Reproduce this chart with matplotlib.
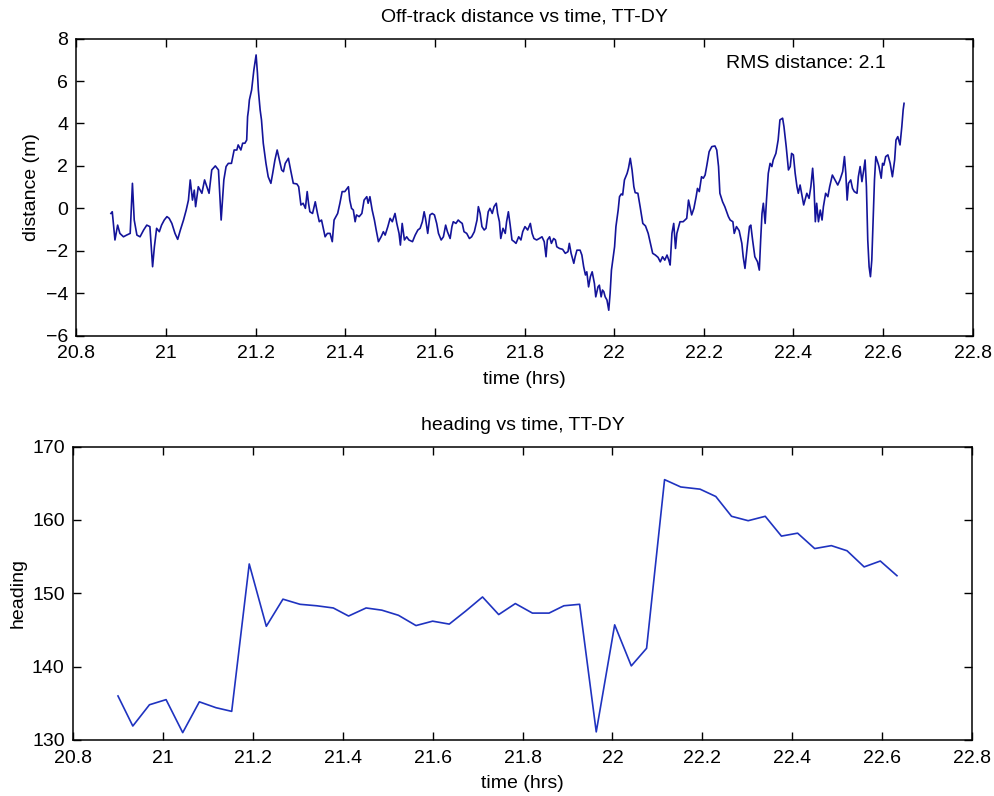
import matplotlib
matplotlib.use("Agg")
import matplotlib.pyplot as plt
import numpy as np
from matplotlib.ticker import FuncFormatter, MultipleLocator

plt.rcParams["font.family"] = ["Liberation Sans", "DejaVu Sans"]

# off-track distance (m) against time (hrs)
track_time = [
    20.877, 20.880, 20.886, 20.892, 20.897, 20.905, 20.912, 20.920, 20.925, 20.929,
    20.935, 20.942, 20.950, 20.957, 20.964, 20.970, 20.974, 20.979, 20.985, 20.990,
    20.996, 21.002, 21.007, 21.013, 21.020, 21.026, 21.032, 21.039, 21.045, 21.050,
    21.054, 21.059, 21.063, 21.066, 21.072, 21.080, 21.086, 21.091, 21.096, 21.102,
    21.110, 21.117,
    21.123, 21.126, 21.129, 21.134, 21.139, 21.146, 21.152, 21.158, 21.161, 21.167,
    21.171, 21.176, 21.180, 21.182, 21.184, 21.186, 21.191, 21.196, 21.201, 21.204,
    21.206, 21.210, 21.213, 21.217, 21.223, 21.228, 21.234, 21.238, 21.243, 21.248,
    21.253, 21.258, 21.262, 21.266, 21.273, 21.278, 21.284, 21.292, 21.296, 21.301,
    21.306, 21.311, 21.315, 21.318, 21.321, 21.327, 21.333, 21.338, 21.342, 21.347,
    21.351, 21.355, 21.360, 21.366, 21.371, 21.375,
    21.379, 21.383, 21.388, 21.393, 21.399, 21.407, 21.410, 21.414, 21.418, 21.422,
    21.425, 21.431, 21.437, 21.442, 21.448, 21.451, 21.455, 21.460, 21.465, 21.469,
    21.474, 21.480, 21.485, 21.489, 21.495, 21.500, 21.505, 21.511, 21.515, 21.520,
    21.523, 21.527, 21.532, 21.537, 21.542, 21.550, 21.556, 21.562, 21.567, 21.572,
    21.576, 21.579, 21.584, 21.589, 21.594, 21.599, 21.604, 21.608, 21.614, 21.619,
    21.624, 21.628,
    21.634, 21.638, 21.641, 21.647, 21.652, 21.656, 21.661, 21.665, 21.671, 21.677,
    21.682, 21.688, 21.694, 21.697, 21.701, 21.705, 21.710, 21.714, 21.719, 21.723,
    21.728, 21.732, 21.737, 21.740, 21.744, 21.747, 21.752, 21.757, 21.760, 21.764,
    21.768, 21.772, 21.777, 21.781, 21.787, 21.792, 21.796, 21.801, 21.807, 21.813,
    21.817, 21.821, 21.827, 21.833, 21.839, 21.844, 21.848, 21.851, 21.856, 21.860,
    21.865, 21.869, 21.872, 21.878, 21.885,
    21.891, 21.897, 21.900, 21.904, 21.910, 21.913, 21.917, 21.924, 21.928, 21.932,
    21.936, 21.939, 21.943, 21.947, 21.951, 21.956, 21.959, 21.964, 21.967, 21.971,
    21.974, 21.977, 21.980, 21.984, 21.988, 21.991, 21.994, 21.997, 22.001, 22.004,
    22.009, 22.012, 22.016, 22.019, 22.023, 22.029, 22.032, 22.036, 22.040, 22.044,
    22.047, 22.053, 22.058, 22.064, 22.070, 22.076, 22.081, 22.086, 22.092, 22.098,
    22.103, 22.108, 22.113, 22.118, 22.122, 22.125, 22.129, 22.133, 22.137, 22.140,
    22.144,
    22.147, 22.154, 22.162, 22.166, 22.169, 22.173, 22.178, 22.183, 22.186, 22.190,
    22.195, 22.199, 22.203, 22.207, 22.212, 22.218, 22.225, 22.229, 22.233, 22.236,
    22.242, 22.247, 22.255, 22.259, 22.265, 22.268, 22.273, 22.279, 22.285, 22.288,
    22.292, 22.297, 22.302, 22.305, 22.309, 22.314, 22.320, 22.324, 22.327, 22.330,
    22.333, 22.337, 22.340, 22.344, 22.348, 22.352, 22.355, 22.361, 22.366, 22.370,
    22.376, 22.379, 22.384, 22.389, 22.393, 22.396, 22.400,
    22.404, 22.408, 22.411, 22.415, 22.419, 22.423, 22.426, 22.430, 22.435, 22.439,
    22.443, 22.446, 22.449, 22.452, 22.456, 22.460, 22.464, 22.467, 22.472, 22.477,
    22.481, 22.487, 22.493, 22.499, 22.504, 22.510, 22.514, 22.517, 22.520, 22.523,
    22.528, 22.532, 22.536, 22.542, 22.545, 22.549, 22.553, 22.557, 22.560, 22.563,
    22.566, 22.569, 22.572, 22.575, 22.578, 22.581, 22.584, 22.589, 22.591, 22.596,
    22.599, 22.602, 22.606, 22.611, 22.616, 22.621, 22.626, 22.629, 22.633, 22.638,
    22.642, 22.645, 22.647,
]
track_dist = [
    -0.24, -0.16, -1.49, -0.79, -1.18, -1.34, -1.26, -1.18, 1.18, -0.55,
    -1.26, -1.34, -1.02, -0.79, -0.86, -2.75, -1.81, -0.94, -1.10, -0.79,
    -0.55, -0.39, -0.47, -0.71, -1.18, -1.46, -1.02, -0.55, -0.08, 0.39,
    1.34, 0.39, 0.86, 0.08, 1.02, 0.71, 1.34, 1.02, 0.71, 1.81,
    2.00, 1.81,
    -0.55, 0.39, 1.34, 1.97, 2.12, 2.12, 2.75, 2.75, 2.99, 2.75,
    3.07, 3.07, 3.22, 4.32, 4.64, 5.11, 5.58, 6.52, 7.23, 6.37,
    5.58, 4.64, 4.17, 3.07, 2.12, 1.49, 1.18, 1.65, 2.28, 2.75,
    2.28, 1.81, 1.73, 2.12, 2.36, 1.81, 1.18, 1.15, 1.02, 0.16,
    0.24, 0.00, 0.79, 0.24, -0.16, -0.24, 0.31, -0.24, -0.63, -0.55,
    -0.94, -1.34, -1.18, -1.18, -1.57, -0.55,
    -0.39, -0.24, 0.24, 0.79, 0.79, 1.02, 0.39, 0.00, -0.08, -0.63,
    -0.31, -0.39, -0.24, 0.39, 0.55, 0.24, 0.55, -0.08, -0.55, -1.02,
    -1.57, -1.34, -1.10, -1.26, -0.86, -0.47, -0.63, -0.24, -0.71, -1.18,
    -1.73, -0.71, -1.49, -1.34, -1.49, -1.57, -1.26, -1.02, -0.94, -0.63,
    -0.16, -0.47, -1.18, -0.31, -0.24, -0.31, -0.71, -1.18, -1.49, -1.34,
    -0.79, -1.10,
    -1.42, -0.86, -0.63, -0.71, -0.55, -0.63, -0.71, -1.10, -1.18, -1.42,
    -1.34, -1.10, -0.55, 0.08, -0.24, -0.86, -1.02, -0.94, -0.16, 0.00,
    -0.24, 0.08, 0.24, -0.24, -0.63, -1.42, -0.94, -1.18, -0.63, -0.16,
    -0.79, -1.49, -1.57, -1.65, -1.34, -1.49, -1.10, -0.86, -1.02, -0.71,
    -1.18, -1.42, -1.49, -1.42, -1.34, -1.57, -2.28, -1.49, -1.34, -1.65,
    -1.42, -1.49, -1.81, -1.89, -1.93,
    -2.12, -2.04, -1.65, -2.12, -2.59, -2.28, -1.97, -1.97, -2.20, -2.75,
    -3.14, -2.99, -3.70, -3.22, -2.99, -3.54, -4.17, -3.70, -3.62, -4.17,
    -3.85, -3.93, -4.17, -4.32, -4.80, -4.01, -2.91, -2.44, -1.81, -0.86,
    -0.08, 0.55, 0.68, 0.63, 1.34, 1.65, 1.89, 2.36, 1.81, 1.02,
    0.74, 0.71, 0.08, -0.71, -0.83, -1.18, -1.65, -2.12, -2.20, -2.31,
    -2.52, -2.28, -2.44, -2.20, -2.44, -2.67, -1.18, -0.71, -1.89, -1.18,
    -0.86,
    -0.63, -0.63, -0.47, 0.39, 0.08, -0.31, 0.00, 0.55, 0.94, 0.79,
    1.49, 1.42, 1.57, 2.04, 2.67, 2.91, 2.94, 2.75, 1.97, 0.71,
    0.31, 0.08, -0.39, -0.55, -0.63, -1.18, -0.86, -1.05, -1.65, -2.28,
    -2.83, -1.81, -0.86, -0.79, -1.49, -2.28, -2.52, -2.91, -1.49, -0.24,
    0.24, -0.71, 0.39, 1.65, 2.12, 1.97, 2.28, 2.59, 3.22, 4.17,
    4.25, 3.85, 2.91, 1.81, 1.97, 2.59, 2.52,
    1.65, 1.02, 0.71, 1.10, 0.63, 0.16, 0.39, 0.71, 0.47, 1.02,
    1.89, 1.02, -0.63, 0.24, -0.63, -0.08, -0.55, 0.08, 0.71, 0.55,
    1.02, 1.57, 1.34, 1.10, 1.34, 1.73, 2.44, 1.65, 0.39, 1.18,
    1.34, 0.94, 0.79, 0.71, 1.49, 1.97, 1.26, 1.81, 2.28, 1.02,
    -1.49, -2.75, -3.22, -2.44, -0.55, 1.34, 2.44, 2.12, 1.97, 1.42,
    2.12, 2.04, 2.44, 2.52, 2.12, 1.49, 2.28, 3.22, 3.38, 2.99,
    3.85, 4.64, 4.95,
]
rms_label = "RMS distance: 2.1"

# heading (deg) against time (hrs)
heading_time = [
    20.900, 20.933, 20.970, 21.007, 21.044, 21.081, 21.118, 21.153, 21.192, 21.230,
    21.267, 21.305, 21.342, 21.379, 21.413, 21.452, 21.487, 21.524, 21.563, 21.600,
    21.637, 21.674, 21.711, 21.747, 21.784, 21.822, 21.859, 21.892, 21.927, 21.964,
    22.005, 22.042, 22.076, 22.116, 22.152, 22.195, 22.230, 22.265, 22.302, 22.340,
    22.376, 22.412, 22.450, 22.487, 22.522, 22.560, 22.596, 22.633,
]
heading = [
    136.0, 131.9, 134.8, 135.5, 131.0, 135.2, 134.4, 133.9, 154.0, 145.5,
    149.2, 148.5, 148.3, 148.0, 146.9, 148.0, 147.7, 147.0, 145.6, 146.2,
    145.8, 147.6, 149.5, 147.1, 148.6, 147.3, 147.3, 148.3, 148.5, 131.1,
    145.7, 140.1, 142.5, 165.5, 164.5, 164.2, 163.2, 160.5, 159.9, 160.5,
    157.8, 158.2, 156.1, 156.5, 155.8, 153.6, 154.4, 152.4,
]

x_ticks = np.arange(20.8, 22.81, 0.2)


def style_axes(ax):
    ax.set_xlim(20.8, 22.8)
    ax.set_xticks(x_ticks)
    ax.xaxis.set_major_formatter(FuncFormatter(lambda v, p: f"{v:g}"))
    ax.tick_params(direction="in", top=True, right=True, length=6,
                   width=1.0, labelsize=14)
    ax.tick_params(axis="x", pad=7)
    ax.tick_params(axis="y", pad=6)
    for sp in ax.spines.values():
        sp.set_linewidth(1.1)


fig = plt.figure(figsize=(9.95, 7.96), dpi=100)

ax1 = fig.add_axes([0.0768, 0.5783, 0.9007, 0.3732])
ax1.plot(track_time, track_dist, color="#14149a", lw=1.2)
style_axes(ax1)
ax1.set_ylim(-6, 8)
ax1.yaxis.set_major_locator(MultipleLocator(2))
ax1.set_title("Off-track distance vs time, TT-DY", fontsize=14, pad=12)
ax1.set_xlabel("time (hrs)", fontsize=14, labelpad=6)
ax1.set_ylabel("distance (m)", fontsize=14, labelpad=4)
ax1.text(22.25, 6.85, rms_label, fontsize=14, ha="left", va="center")

ax2 = fig.add_axes([0.0734, 0.0704, 0.9035, 0.3685])
ax2.plot(heading_time, heading, color="#1f33c0", lw=1.2)
style_axes(ax2)
ax2.set_ylim(130, 170)
ax2.yaxis.set_major_locator(MultipleLocator(10))
ax2.set_title("heading vs time, TT-DY", fontsize=14, pad=12)
ax2.set_xlabel("time (hrs)", fontsize=14, labelpad=6)
ax2.set_ylabel("heading", fontsize=14, labelpad=4)

fig.savefig("out.png", dpi=100)
